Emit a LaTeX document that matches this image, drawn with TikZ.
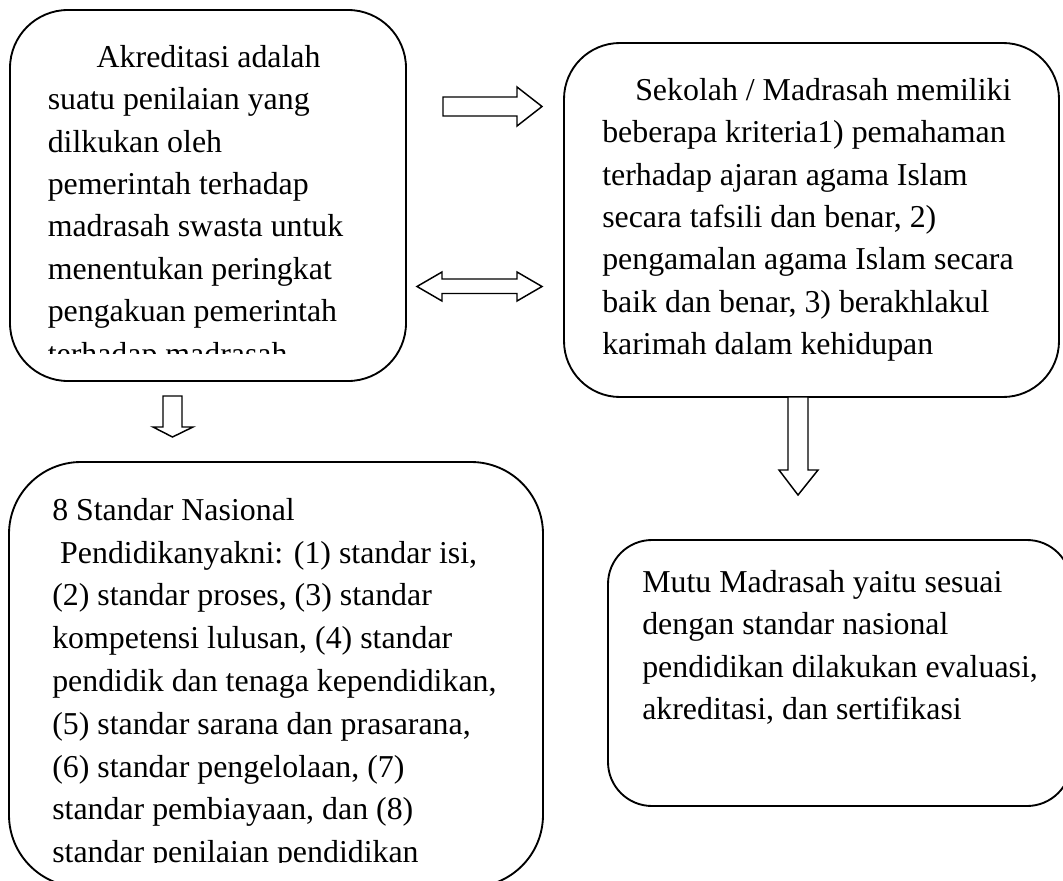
\documentclass[tikz,border=0pt]{standalone}
\usepackage{fontspec}
\setmainfont{Liberation Serif}
\newcommand\firstln{\rule{0pt}{0.9em}}
\begin{document}
\begin{tikzpicture}[x=0.75pt,y=-0.75pt,
  box/.style={draw, line width=1.4pt, inner sep=0pt},
  txt/.style={anchor=north west, inner sep=0pt, align=left, font=\fontsize{23.9}{31.8}\selectfont},
  blockarrow/.style={draw, line width=1.1pt, fill=white, line join=miter}]
\clip (0,0) rectangle (1063,881);
\fill[white] (0,0) rectangle (1063,881);
% boxes
\node[box, rounded corners=43.5pt, minimum width=297pt, minimum height=278.25pt] (b1) at (208,195.5) {};
\node[box, rounded corners=42pt, minimum width=371.25pt, minimum height=265.5pt] (b2) at (811.5,220) {};
\node[box, rounded corners=54pt, minimum width=400.5pt, minimum height=318.75pt] (b3) at (276,674.5) {};
\node[box, rounded corners=33pt, minimum width=347.25pt, minimum height=199.5pt] (b4) at (839.5,673) {};
% texts
\begin{scope}
\clip (10,10) rectangle (406,353);
\node[txt] (t1) at (47.5,38.3) {\firstln\hspace*{36.7pt}Akreditasi adalah\\
suatu penilaian yang\\
dilkukan oleh\\
pemerintah terhadap\\
madrasah swasta untuk\\
menentukan peringkat\\
pengakuan pemerintah\\
terhadap madrasah};
\end{scope}
\node[txt] (t2) at (602,71.3) {\firstln\hspace*{24.75pt}Sekolah / Madrasah memiliki\\
beberapa kriteria1) pemahaman\\
terhadap ajaran agama Islam\\
secara tafsili dan benar, 2)\\
pengamalan agama Islam secara\\
baik dan benar, 3) berakhlakul\\
karimah dalam kehidupan};
\begin{scope}
\clip (9,462) rectangle (543,862);
\node[txt, font=\fontsize{23.9}{32.1}\selectfont] (t3) at (52,491.3) {\firstln 8 Standar Nasional\\
\hspace*{0.25em}Pendidikanyakni: (1) standar isi,\\
(2) standar proses, (3) standar\\
kompetensi lulusan, (4) standar\\
pendidik dan tenaga kependidikan,\\
(5) standar sarana dan prasarana,\\
(6) standar pengelolaan, (7)\\
standar pembiayaan, dan (8)\\
standar penilaian pendidikan};
\end{scope}
\node[txt] (t4) at (642,563.3) {\firstln Mutu Madrasah yaitu sesuai\\
dengan standar nasional\\
pendidikan dilakukan evaluasi,\\
akreditasi, dan sertifikasi};
% block arrows
\draw[blockarrow] (443,97) -- (517,97) -- (517,87) -- (542,106.5) -- (517,126) -- (517,116) -- (443,116) -- cycle;
\draw[blockarrow] (417,286.5) -- (442,272) -- (442,279) -- (517,279) -- (517,272) -- (542,286.5) -- (517,301) -- (517,293.5) -- (442,293.5) -- (442,301) -- cycle;
\draw[blockarrow] (163,396) -- (182,396) -- (182,427) -- (193,427) -- (172.5,437) -- (153,427) -- (163,427) -- cycle;
\draw[blockarrow] (788,397) -- (808,397) -- (808,470) -- (818,470) -- (798,495) -- (779,470) -- (788,470) -- cycle;
\end{tikzpicture}
\end{document}
